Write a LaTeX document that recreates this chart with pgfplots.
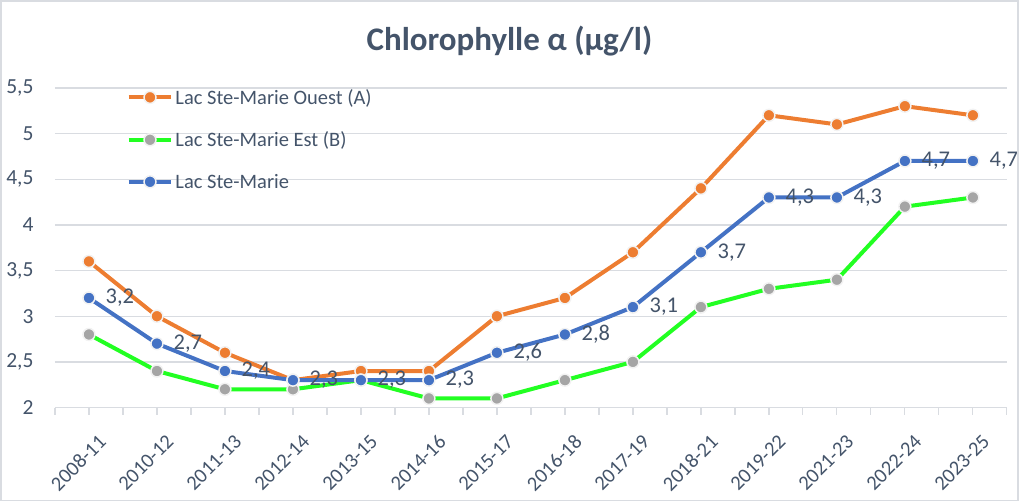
\documentclass[border=0pt]{standalone}
\usepackage{pgfplots}
\pgfplotsset{compat=1.18}
\usepackage{fontspec}
\setmainfont{Carlito}
\definecolor{txt}{HTML}{44546A}
\definecolor{orangeA}{HTML}{ED7D31}
\definecolor{greenB}{HTML}{22FF22}
\definecolor{grayB}{HTML}{A5A5A5}
\definecolor{blueC}{HTML}{4472C4}
\definecolor{gridc}{HTML}{D9DCE1}
\begin{document}
\begin{tikzpicture}
\begin{axis}[
  name=ax,
  at={(0pt,0pt)}, anchor=south west,
  scale only axis,
  width=953pt, height=320pt,
  xmin=-0.5, xmax=13.5,
  ymin=2, ymax=5.5,
  /pgf/number format/use comma,
  /pgf/number format/assume math mode=true,
  axis x line*=bottom,
  axis y line*=left,
  y axis line style={draw=none},
  x axis line style={draw=gridc, line width=1.3pt},
  tick align=outside,
  xtick={-0.5,0.5,...,13.5},
  xticklabels={},
  major tick length=7pt,
  x tick style={draw=gridc, line width=1.2pt},
  extra x ticks={0,...,13},
  extra x tick labels={2008-11,2010-12,2011-13,2012-14,2013-15,2014-16,2015-17,2016-18,2017-19,2018-21,2019-22,2021-23,2022-24,2023-25},
  extra x tick style={tick style={draw=none}, tick label style={rotate=45, anchor=north east, xshift=-4pt, yshift=-16pt, font=\fontsize{20.5}{22}\selectfont}},
  ytick={2,2.5,...,5.5},
  y tick style={draw=none},
  ymajorgrids,
  grid style={draw=gridc, line width=1.3pt},
  tick label style={font=\fontsize{21.5}{23}\selectfont, text=txt},
  yticklabel style={xshift=-11pt},
  legend style={at={(0.075,1.003)}, anchor=north west, draw=none, fill=none,
    font=\fontsize{20.5}{22}\selectfont, text=txt, row sep=22pt, inner sep=0pt,
    legend cell align=left},
  legend image code/.code={\draw[mark repeat=2,mark phase=2,#1] plot coordinates {(0pt,0pt) (21.5pt,0pt) (43pt,0pt)};},
  every axis plot/.append style={line width=4pt, mark=*, mark size=6pt},
]
\addplot[color=orangeA, mark options={fill=orangeA, draw=white!90!gray, line width=1.5pt}] coordinates {
  (0,3.6) (1,3.0) (2,2.6) (3,2.3) (4,2.4) (5,2.4) (6,3.0)
  (7,3.2) (8,3.7) (9,4.4) (10,5.2) (11,5.1) (12,5.3) (13,5.2)};
\addlegendentry{Lac Ste-Marie Ouest (A)}
\addplot[color=greenB, mark options={fill=grayB, draw=white!90!gray, line width=1.5pt}] coordinates {
  (0,2.8) (1,2.4) (2,2.2) (3,2.2) (4,2.3) (5,2.1) (6,2.1)
  (7,2.3) (8,2.5) (9,3.1) (10,3.3) (11,3.4) (12,4.2) (13,4.3)};
\addlegendentry{Lac Ste-Marie Est (B)}
\addplot[color=blueC, mark options={fill=blueC, draw=white!90!gray, line width=1.5pt},
  nodes near coords,
  nodes near coords style={anchor=west, xshift=14pt, inner sep=2pt,
    font=\fontsize{22.5}{24}\selectfont, text=txt}] coordinates {
  (0,3.2) (1,2.7) (2,2.4) (3,2.3) (4,2.3) (5,2.3) (6,2.6)
  (7,2.8) (8,3.1) (9,3.7) (10,4.3) (11,4.3) (12,4.7) (13,4.7)};
\addlegendentry{Lac Ste-Marie}
\end{axis}
\useasboundingbox (-55pt,-94pt) rectangle (965pt,408pt);
\draw[draw=gridc, line width=1.5pt] (-54pt,-93pt) rectangle (964pt,407pt);
\node[font=\bfseries\fontsize{33}{36}\selectfont, text=txt] at (455pt,367pt) {Chlorophylle α (µg/l)};
\end{tikzpicture}
\end{document}
